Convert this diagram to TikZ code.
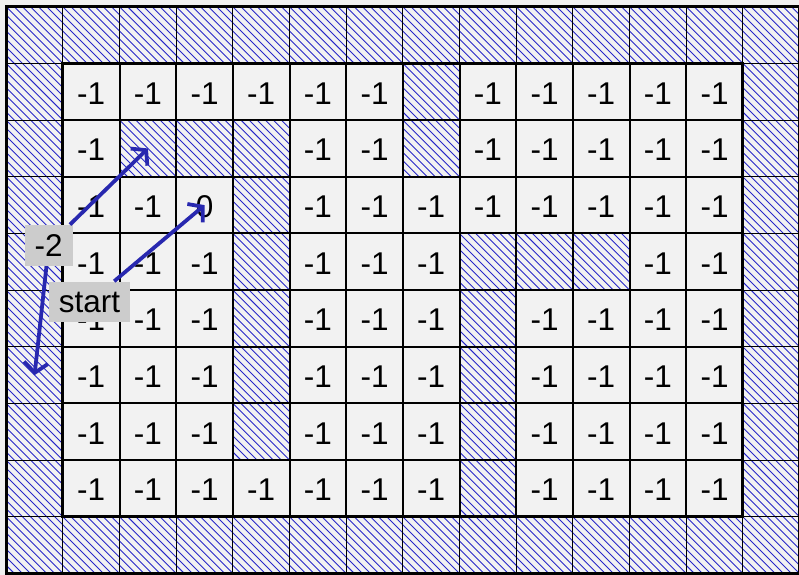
\documentclass[tikz,border=0pt]{standalone}
\usepackage{fontspec}
\setmainfont{Liberation Sans}
\usetikzlibrary{arrows.meta}
\definecolor{hatchblue}{RGB}{40,40,200}
\definecolor{arrowblue}{RGB}{40,40,175}
\definecolor{floorgray}{RGB}{242,242,242}
\definecolor{taggray}{RGB}{204,204,204}
\tikzset{
  hatch/.style={draw=hatchblue,line width=0.45pt},
  val/.style={font=\fontsize{15.8}{19}\selectfont,inner sep=0pt,yshift=-0.8pt},
  tag/.style={fill=taggray,inner xsep=5pt,inner ysep=0pt,minimum height=0.72cm,font=\fontsize{15.8}{19}\selectfont},
  walk/.style={draw=arrowblue,line width=1.9pt,-{Straight Barb[length=5pt,width=12pt]}},
}

\begin{document}
\begin{tikzpicture}
  \useasboundingbox[fill=gray!12] (-0.11,-0.02) rectangle (13.99,10.12);
  \fill[floorgray] (0,0) rectangle (14,10);
  % outer ring of walls
  \begin{scope}[even odd rule]
    \clip (0,0) rectangle (14,10) (1,1) rectangle (13,9);
    \foreach \k in {0,...,168}
      \draw[hatch] (\k/7-10,10) -- ++(10,-10);
  \end{scope}
  % cell centres
  \foreach \c in {0,...,13}
    \foreach \r in {0,...,9}
      \coordinate (cell-\c-\r) at (\c+0.5,9.5-\r);
  % 9 = wall
  \foreach \r/\row in {1/{-1,-1,-1,-1,-1,-1,9,-1,-1,-1,-1,-1},
                       2/{-1,9,9,9,-1,-1,9,-1,-1,-1,-1,-1},
                       3/{-1,-1,0,9,-1,-1,-1,-1,-1,-1,-1,-1},
                       4/{-1,-1,-1,9,-1,-1,-1,9,9,9,-1,-1},
                       5/{-1,-1,-1,9,-1,-1,-1,9,-1,-1,-1,-1},
                       6/{-1,-1,-1,9,-1,-1,-1,9,-1,-1,-1,-1},
                       7/{-1,-1,-1,9,-1,-1,-1,9,-1,-1,-1,-1},
                       8/{-1,-1,-1,-1,-1,-1,-1,9,-1,-1,-1,-1}}
    \foreach \v [count=\c] in \row {
      \ifnum\v=9
        \begin{scope}
          \clip (\c,9-\r) rectangle ++(1,1);
          \foreach \k in {1,...,13}
            \draw[hatch] (\c-1+\k/7,10-\r) -- ++(1,-1);
        \end{scope}
      \else
        \node[val] (val-\c-\r) at (cell-\c-\r) {\v};
      \fi
    }
  % grid
  \draw[line width=0.5pt] (0,0) grid (14,10);
  \draw[line width=1pt] (1,1) grid (13,9);
  \draw[line width=1.6pt] (1,1) rectangle (13,9);
  \draw[line width=1.6pt] (0,0) rectangle (14,10);
  % labels and moves
  \node[tag] (minustwo) at (0.75,5.79) {-2};
  \node[tag] (start) at (1.47,4.79) {start};
  \draw[walk] (minustwo) -- (cell-2-2);
  \draw[walk] (minustwo) -- (cell-0-6);
  \draw[walk] (start) -- (cell-3-3);
\end{tikzpicture}
\end{document}
